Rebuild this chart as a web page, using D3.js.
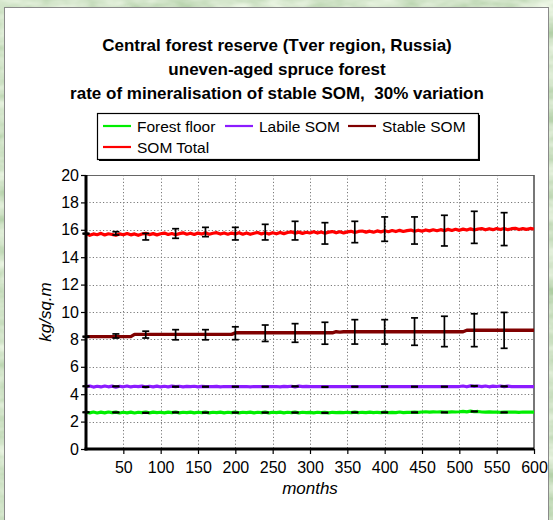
<!DOCTYPE html>
<html>
<head>
<meta charset="utf-8">
<script src="https://cdn.jsdelivr.net/npm/d3@7"></script>
<style>
  html, body { margin: 0; padding: 0; background: #fff; }
  svg { display: block; }
  text { font-family: "Liberation Sans", Arial, sans-serif; fill: #000; white-space: pre; }
</style>
</head>
<body>
<svg id="chart" width="553" height="520"></svg>
<script>
// ---- chart text ----
const titleLines = [
  "Central forest reserve (Tver region, Russia)",
  "uneven-aged spruce forest",
  "rate of mineralisation of stable SOM,  30% variation"
];
const xAxisTitle = "months";
const yAxisTitle = "kg/sq.m";

// ---- series ----
const seriesNames = ["Forest floor", "Labile SOM", "Stable SOM", "SOM Total"];
const seriesColors = ["#00ee00", "#8c1cff", "#800000", "#ff0000"];

// simulated pools, one value every 5 months from 0 to 600
const sampleStep = 5;
const forestFloor = [
  2.68, 2.64, 2.70, 2.63, 2.69, 2.64, 2.70, 2.65, 2.69, 2.63,
  2.68, 2.64, 2.69, 2.63, 2.68, 2.65, 2.70, 2.64, 2.69, 2.65,
  2.68, 2.64, 2.69, 2.65, 2.70, 2.64, 2.68, 2.65, 2.69, 2.64,
  2.68, 2.65, 2.69, 2.64, 2.68, 2.65, 2.69, 2.64, 2.68, 2.65,
  2.69, 2.64, 2.68, 2.65, 2.69, 2.64, 2.68, 2.65, 2.69, 2.64,
  2.68, 2.65, 2.69, 2.64, 2.68, 2.65, 2.69, 2.64, 2.68, 2.65,
  2.67, 2.64, 2.68, 2.65, 2.67, 2.64, 2.68, 2.66, 2.67, 2.65,
  2.68, 2.66, 2.69, 2.65, 2.68, 2.66, 2.69, 2.65, 2.68, 2.66,
  2.69, 2.66, 2.68, 2.66, 2.70, 2.66, 2.68, 2.67, 2.69, 2.68,
  2.70, 2.72, 2.69, 2.71, 2.70, 2.71, 2.70, 2.69, 2.71, 2.70,
  2.72, 2.75, 2.71, 2.76, 2.72, 2.74, 2.70, 2.69, 2.71, 2.69,
  2.70, 2.68, 2.70, 2.69, 2.70, 2.69, 2.68, 2.70, 2.69, 2.69,
  2.69
];
const labileSOM = [
  4.55, 4.60, 4.52, 4.58, 4.53, 4.60, 4.54, 4.59, 4.52, 4.58,
  4.54, 4.60, 4.53, 4.58, 4.55, 4.59, 4.53, 4.58, 4.54, 4.59,
  4.53, 4.58, 4.54, 4.59, 4.55, 4.58, 4.54, 4.57, 4.55, 4.58,
  4.54, 4.57, 4.55, 4.56, 4.55, 4.57, 4.54, 4.56, 4.55, 4.56,
  4.55, 4.56, 4.55, 4.56, 4.54, 4.56, 4.55, 4.56, 4.55, 4.56,
  4.55, 4.56, 4.54, 4.57, 4.55, 4.58, 4.54, 4.59, 4.55, 4.57,
  4.55, 4.56, 4.55, 4.55, 4.56, 4.55, 4.55, 4.56, 4.55, 4.55,
  4.55, 4.55, 4.56, 4.55, 4.55, 4.55, 4.56, 4.55, 4.55, 4.55,
  4.55, 4.56, 4.55, 4.55, 4.55, 4.55, 4.56, 4.55, 4.55, 4.55,
  4.55, 4.55, 4.56, 4.55, 4.55, 4.55, 4.55, 4.56, 4.55, 4.55,
  4.56, 4.60, 4.54, 4.61, 4.57, 4.60, 4.55, 4.60, 4.54, 4.59,
  4.56, 4.60, 4.55, 4.59, 4.55, 4.56, 4.55, 4.55, 4.56, 4.55,
  4.55
];
const stableSOM = [
  8.20, 8.20, 8.20, 8.20, 8.20, 8.20, 8.20, 8.20, 8.20, 8.20,
  8.20, 8.20, 8.20, 8.37, 8.37, 8.37, 8.37, 8.37, 8.37, 8.37,
  8.37, 8.37, 8.37, 8.37, 8.37, 8.37, 8.37, 8.37, 8.37, 8.37,
  8.37, 8.37, 8.37, 8.37, 8.37, 8.37, 8.37, 8.37, 8.37, 8.37,
  8.48, 8.48, 8.48, 8.48, 8.48, 8.48, 8.48, 8.48, 8.48, 8.48,
  8.48, 8.48, 8.48, 8.48, 8.48, 8.48, 8.48, 8.48, 8.48, 8.48,
  8.48, 8.48, 8.48, 8.48, 8.48, 8.48, 8.48, 8.56, 8.53, 8.56,
  8.56, 8.56, 8.56, 8.56, 8.56, 8.56, 8.56, 8.56, 8.56, 8.56,
  8.56, 8.56, 8.56, 8.56, 8.56, 8.56, 8.56, 8.56, 8.56, 8.56,
  8.56, 8.56, 8.56, 8.56, 8.56, 8.56, 8.56, 8.56, 8.56, 8.56,
  8.56, 8.56, 8.67, 8.67, 8.67, 8.67, 8.67, 8.67, 8.67, 8.67,
  8.67, 8.67, 8.67, 8.67, 8.67, 8.67, 8.67, 8.67, 8.67, 8.67,
  8.67
];
const somTotal = [
  15.72, 15.60, 15.70, 15.64, 15.74, 15.62, 15.71, 15.66, 15.60, 15.70,
  15.64, 15.73, 15.63, 15.70, 15.60, 15.69, 15.74, 15.65, 15.72, 15.63,
  15.71, 15.76, 15.66, 15.73, 15.64, 15.72, 15.78, 15.68, 15.75, 15.66,
  15.76, 15.69, 15.78, 15.68, 15.75, 15.79, 15.69, 15.77, 15.68, 15.76,
  15.70, 15.79, 15.68, 15.77, 15.67, 15.75, 15.80, 15.70, 15.78, 15.69,
  15.79, 15.71, 15.81, 15.72, 15.80, 15.85, 15.75, 15.83, 15.74, 15.82,
  15.77, 15.86, 15.76, 15.84, 15.75, 15.83, 15.87, 15.78, 15.86, 15.77,
  15.85, 15.89, 15.80, 15.88, 15.91, 15.83, 15.90, 15.82, 15.92, 15.85,
  15.93, 15.86, 15.95, 15.87, 15.96, 15.88, 15.94, 15.98, 15.89, 15.97,
  15.90, 15.99, 15.92, 16.00, 15.93, 16.01, 15.94, 16.03, 15.95, 16.04,
  15.96, 16.05, 15.98, 16.07, 15.99, 16.06, 16.09, 16.00, 16.08, 16.01,
  16.09, 16.02, 16.10, 16.01, 16.08, 16.11, 16.02, 16.09, 16.03, 16.10,
  16.06
];

// replicate-run spread, every 40 months
const errMonths = [0, 40, 80, 120, 160, 200, 240, 280, 320, 360, 400, 440, 480, 520, 560];
const forestMean = [2.68, 2.67, 2.64, 2.67, 2.66, 2.66, 2.66, 2.66, 2.64, 2.67, 2.67, 2.67, 2.67, 2.74, 2.67];
const forestDev  = [0.02, 0.02, 0.02, 0.02, 0.02, 0.02, 0.02, 0.02, 0.02, 0.02, 0.02, 0.02, 0.02, 0.02, 0.02];
const labileMean = [4.58, 4.57, 4.53, 4.55, 4.55, 4.55, 4.55, 4.57, 4.53, 4.55, 4.55, 4.55, 4.55, 4.60, 4.57];
const labileDev  = [0.02, 0.02, 0.02, 0.02, 0.02, 0.02, 0.02, 0.02, 0.02, 0.02, 0.02, 0.02, 0.02, 0.02, 0.02];
const stableMean = [8.20, 8.25, 8.35, 8.34, 8.34, 8.45, 8.45, 8.47, 8.45, 8.55, 8.55, 8.57, 8.58, 8.67, 8.66];
const stableDev  = [0.03, 0.15, 0.25, 0.37, 0.37, 0.47, 0.60, 0.68, 0.80, 0.89, 0.89, 1.00, 1.11, 1.20, 1.31];
const totalMean  = [15.72, 15.74, 15.50, 15.73, 15.84, 15.72, 15.83, 15.94, 15.74, 15.84, 16.05, 15.95, 15.94, 16.18, 16.05];
const totalDev   = [0.03, 0.12, 0.24, 0.35, 0.34, 0.46, 0.57, 0.68, 0.78, 0.78, 0.89, 0.99, 1.12, 1.17, 1.20];

// ---- axes ----
const xTicks = [50, 100, 150, 200, 250, 300, 350, 400, 450, 500, 550, 600];
const yTicks = [0, 2, 4, 6, 8, 10, 12, 14, 16, 18, 20];
const xDomain = [0, 600];
const yDomain = [0, 20];

// ---------------------------------------------------------------
const W = 553, H = 520;
const svg = d3.select("#chart");
const defs = svg.append("defs");

// mottled green backdrop
const tex = defs.append("filter").attr("id", "leafy")
  .attr("x", 0).attr("y", 0).attr("width", 1).attr("height", 1);
tex.append("feTurbulence").attr("type", "fractalNoise")
  .attr("baseFrequency", "0.03 0.07").attr("numOctaves", 3).attr("seed", 7);
tex.append("feColorMatrix").attr("type", "matrix")
  .attr("values", "0.6 0 0 0 0.34  0.45 0 0 0 0.55  0.6 0 0 0 0.28  0 0 0 0 1");
svg.append("rect").attr("width", W).attr("height", H).attr("fill", "#a8c898");
svg.append("rect").attr("width", W).attr("height", H).attr("filter", "url(#leafy)");

// white card
svg.append("rect")
  .attr("x", 4.5).attr("y", 7.5).attr("width", 544).attr("height", 520)
  .attr("fill", "#ffffff").attr("stroke", "#8a8a8a").attr("stroke-width", 1);

// title
svg.append("g").selectAll("text").data(titleLines).join("text")
  .attr("x", 277).attr("y", (d, i) => 51 + i * 24)
  .attr("text-anchor", "middle")
  .style("font-size", "17px").style("font-weight", "bold")
  .text(d => d);

// scales
const x = d3.scaleLinear().domain(xDomain).range([86, 534]);
const y = d3.scaleLinear().domain(yDomain).range([449, 175]);

// grid
const grid = svg.append("g").attr("stroke", "#7a7a7a").attr("stroke-width", 1)
  .attr("stroke-dasharray", "1.2,2.2");
grid.selectAll(".gx").data(xTicks.filter(v => v < xDomain[1])).join("line")
  .attr("x1", d => Math.round(x(d)) + 0.5).attr("x2", d => Math.round(x(d)) + 0.5)
  .attr("y1", y(yDomain[1])).attr("y2", y(0));
grid.selectAll(".gy").data(yTicks.filter(v => v > 0)).join("line")
  .attr("x1", x(0)).attr("x2", x(xDomain[1]))
  .attr("y1", d => Math.round(y(d)) + 0.5).attr("y2", d => Math.round(y(d)) + 0.5);

// frame on top/right
svg.append("line").attr("x1", x(0)).attr("x2", x(600)).attr("y1", y(20) + 0.5).attr("y2", y(20) + 0.5)
  .attr("stroke", "#666").attr("stroke-width", 1);
svg.append("line").attr("x1", x(600)).attr("x2", x(600)).attr("y1", y(20)).attr("y2", y(0))
  .attr("stroke", "#555").attr("stroke-width", 1.6);

// series lines
const months = somTotal.map((_, i) => i * sampleStep);
const seriesValues = [forestFloor, labileSOM, stableSOM, somTotal];
const line = d3.line().x(d => x(d[0])).y(d => y(d[1]));
const drawOrder = [3, 2, 1, 0];
drawOrder.forEach(k => {
  svg.append("path")
    .datum(months.map((m, i) => [m, seriesValues[k][i]]))
    .attr("fill", "none").attr("stroke", seriesColors[k])
    .attr("stroke-width", k === 2 ? 3.4 : 3.2)
    .attr("stroke-linejoin", "round")
    .attr("d", line);
});

// error bars
const errSets = [
  [forestMean, forestDev], [labileMean, labileDev],
  [stableMean, stableDev], [totalMean, totalDev]
];
const eb = svg.append("g").attr("stroke", "#000").attr("stroke-width", 1.7);
errSets.forEach(([mean, dev]) => {
  errMonths.forEach((m, i) => {
    const cx = x(m), y1 = y(mean[i] + dev[i]), y2 = y(mean[i] - dev[i]);
    eb.append("line").attr("x1", cx).attr("x2", cx).attr("y1", y1).attr("y2", y2);
    eb.append("line").attr("x1", cx - 3.5).attr("x2", cx + 3.5).attr("y1", y1).attr("y2", y1);
    eb.append("line").attr("x1", cx - 3.5).attr("x2", cx + 3.5).attr("y1", y2).attr("y2", y2);
  });
});

// axes
const xMinor = d3.range(10, 600, 10).filter(v => v % 50 !== 0);
const yMinor = d3.range(0.5, 20, 0.5).filter(v => v % 2 !== 0);

const gx = svg.append("g").attr("transform", `translate(0,${y(0)})`);
gx.call(d3.axisBottom(x).tickValues(xMinor).tickSize(3).tickFormat(""));
gx.call(d3.axisBottom(x).tickValues(xTicks).tickSize(5).tickPadding(8));
const gy = svg.append("g").attr("transform", `translate(${x(0)},0)`);
gy.call(d3.axisLeft(y).tickValues(yMinor).tickSize(3).tickFormat(""));
gy.call(d3.axisLeft(y).tickValues(yTicks).tickSize(5).tickPadding(2));

[gx, gy].forEach(g => {
  g.selectAll(".domain").remove();
  g.selectAll(".tick line").attr("stroke", "#000").attr("stroke-width", 1.2);
  g.selectAll(".tick text").style("font-size", "16px")
    .style("font-family", "'Liberation Sans', Arial, sans-serif");
});
svg.append("line").attr("x1", x(0) - 1.5).attr("x2", x(600)).attr("y1", y(0)).attr("y2", y(0))
  .attr("stroke", "#000").attr("stroke-width", 3);
svg.append("line").attr("x1", x(0)).attr("x2", x(0)).attr("y1", y(20)).attr("y2", y(0) + 1.5)
  .attr("stroke", "#000").attr("stroke-width", 3);

// axis titles
svg.append("text").attr("x", x(300)).attr("y", 494)
  .attr("text-anchor", "middle").style("font-size", "17px").style("font-style", "italic")
  .text(xAxisTitle);
svg.append("text")
  .attr("transform", `translate(51,${y(10)}) rotate(-90)`)
  .attr("text-anchor", "middle").style("font-size", "17px").style("font-style", "italic")
  .text(yAxisTitle);

// legend
const lg = svg.append("g");
lg.append("rect").attr("x", 99).attr("y", 115).attr("width", 381).attr("height", 46).attr("fill", "#000");
lg.append("rect").attr("x", 97.5).attr("y", 113.5).attr("width", 381).attr("height", 46)
  .attr("fill", "#fff").attr("stroke", "#000").attr("stroke-width", 1.2);
const legendPos = [[103, 126], [225, 126], [348, 126], [103, 147]];
seriesNames.forEach((name, k) => {
  const [lx, ly] = legendPos[k];
  lg.append("line").attr("x1", lx).attr("x2", lx + 28).attr("y1", ly).attr("y2", ly)
    .attr("stroke", seriesColors[k]).attr("stroke-width", 2.2);
  lg.append("text").attr("x", lx + 34).attr("y", ly + 6)
    .style("font-size", "15.5px").text(name);
});
</script>
</body>
</html>
